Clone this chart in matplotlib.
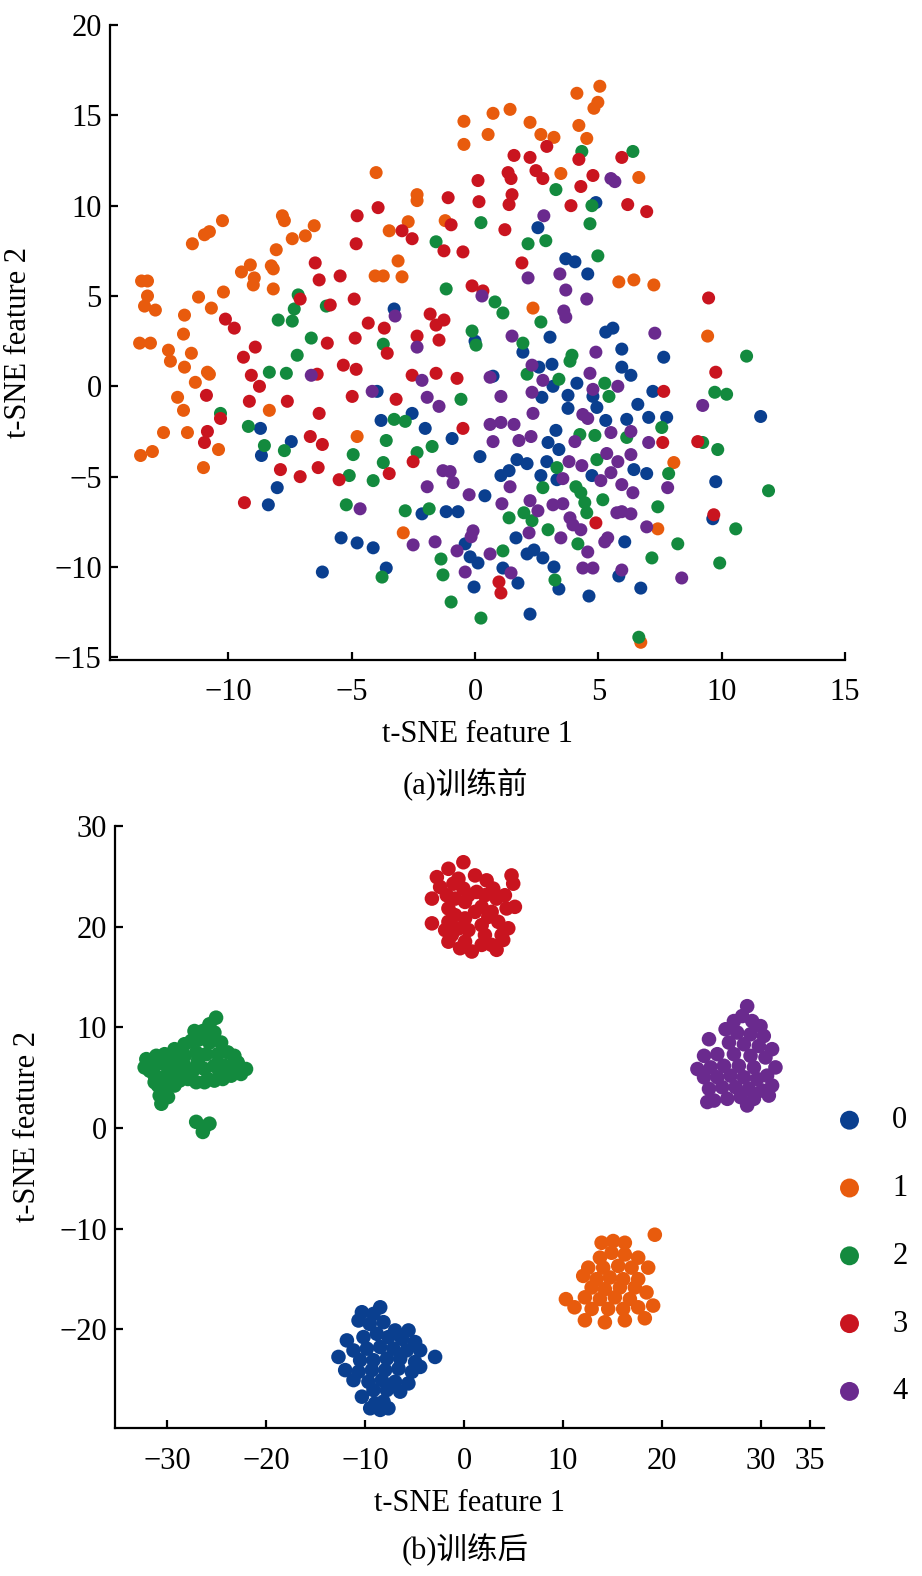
import matplotlib
matplotlib.use("Agg")
import matplotlib.pyplot as plt
import numpy as np

plt.rcParams['font.family'] = ['Liberation Serif', 'Noto Sans CJK SC', 'DejaVu Sans']
plt.rcParams['axes.unicode_minus'] = True

class_labels = ['0', '1', '2', '3', '4']
colors = ['#0a3f8f', '#e85b0d', '#138a3e', '#c9141f', '#6a2a8e']

# ---------------- (a) before training ----------------
a_blue = [(4.9, 10.17), (2.55, 8.78), (3.68, 7.06), (4.05, 6.89), (4.57, 6.22), (-3.28, 4.28), (3.04, 2.72),
          (0.0, 2.5), (1.94, 1.89), (5.3, 3.0), (5.59, 3.22), (5.95, 2.06), (7.65, 1.61), (-8.7, -2.33),
          (-7.45, -3.06), (-8.66, -3.83), (-8.02, -5.61), (-8.38, -6.56), (-5.43, -8.39), (-4.78, -8.67),
          (-6.19, -10.28), (-3.97, -0.28), (0.73, 0.56), (2.59, 1.06), (3.12, 1.22), (3.16, 0.0), (2.71, -0.61),
          (4.13, 0.17), (3.77, -0.5), (3.77, -1.22), (4.94, -1.17), (-2.55, -1.5), (-3.81, -1.89), (-2.02, -2.33),
          (-0.93, -2.89), (0.2, -3.89), (1.7, -4.06), (2.11, -4.28), (1.38, -4.67), (1.05, -4.94), (3.28, -2.44),
          (2.96, -3.11), (3.4, -3.5), (2.91, -4.17), (2.67, -4.94), (3.32, -5.17), (4.74, -4.94), (0.4, -6.06),
          (-2.15, -7.06), (-1.17, -6.94), (-0.69, -6.94), (-4.13, -8.94), (-0.4, -8.72), (-0.2, -9.44),
          (0.12, -9.78), (1.66, -8.39), (2.11, -9.28), (2.39, -9.06), (2.75, -9.5), (3.2, -10.0), (1.13, -10.06),
          (1.74, -10.89), (-0.04, -11.11), (-3.6, -10.06), (3.4, -11.22), (4.62, -11.61), (2.23, -12.61),
          (5.95, 1.06), (6.32, 0.61), (4.78, -0.56), (6.6, -1.0), (7.21, -0.28), (7.04, -1.72), (7.77, -1.72),
          (6.15, -1.83), (5.3, -1.89), (6.44, -4.61), (6.96, -4.83), (11.58, -1.67), (9.76, -5.28),
          (9.64, -7.33), (6.07, -8.61), (5.83, -10.5), (6.72, -11.17)]

a_orange = [(-11.46, 7.89), (-10.97, 8.39), (-10.77, 8.56), (-10.24, 9.17), (-7.81, 9.44), (-7.73, 9.17),
            (-7.41, 8.17), (-6.88, 8.33), (-6.52, 8.89), (-8.06, 7.56), (-9.11, 6.72), (-9.47, 6.33),
            (-8.95, 6.0), (-8.99, 5.61), (-8.26, 6.67), (-8.18, 6.5), (-8.18, 5.39), (-10.2, 5.22),
            (-11.21, 4.94), (-10.69, 4.33), (-13.52, 5.83), (-13.28, 5.83), (-13.28, 5.0), (-13.4, 4.44),
            (-12.96, 4.22), (-11.78, 3.94), (-11.82, 2.89), (-13.6, 2.39), (-13.16, 2.39), (-12.43, 2.0),
            (-11.5, 1.83), (-12.35, 1.39), (-11.78, 1.06), (-11.34, 0.22), (-10.85, 0.78), (-10.77, 0.67),
            (-12.06, -0.61), (-11.82, -1.33), (-12.63, -2.56), (-11.66, -2.56), (-13.56, -3.83),
            (-13.08, -3.61), (-10.4, -3.5), (-11.01, -4.5), (-8.34, -1.33), (-4.78, -2.78), (-0.45, 14.67),
            (0.73, 15.11), (1.42, 15.33), (2.23, 14.61), (2.67, 13.94), (3.2, 13.78), (4.21, 14.44),
            (4.53, 13.72), (0.53, 13.94), (-0.45, 13.39), (-4.01, 11.83), (-2.35, 10.61), (-2.35, 10.28),
            (-2.71, 9.11), (-3.48, 8.61), (-1.21, 9.17), (-3.12, 6.94), (-4.05, 6.11), (-3.72, 6.11),
            (-2.96, 6.06), (3.48, 11.78), (2.35, 4.33), (4.13, 16.22), (5.06, 16.61), (4.82, 15.39),
            (4.98, 15.72), (6.64, 11.56), (5.83, 5.78), (6.44, 5.89), (7.25, 5.61), (9.43, 2.78),
            (-2.91, -8.11), (8.06, -4.22), (7.41, -7.89), (6.72, -14.17)]

a_green = [(-7.17, 5.06), (-7.33, 4.28), (-7.98, 3.67), (-7.41, 3.61), (-6.03, 4.44), (-6.64, 2.67),
           (-7.21, 1.72), (4.33, 13.0), (3.28, 10.89), (4.74, 10.0), (4.66, 9.0), (0.24, 9.06), (2.87, 8.06),
           (2.15, 7.89), (-1.58, 8.0), (4.98, 7.22), (-1.17, 5.39), (0.81, 4.67), (1.13, 4.06), (2.67, 3.56),
           (-0.12, 3.06), (0.04, 2.28), (-3.72, 2.33), (1.94, 2.39), (3.93, 1.72), (3.85, 1.39), (6.4, 13.0),
           (11.01, 1.67), (-10.32, -1.5), (-9.19, -2.22), (-8.54, -3.28), (-7.73, -3.56), (-8.34, 0.78),
           (-7.65, 0.72), (-4.94, -3.78), (-5.1, -4.94), (-5.22, -6.56), (2.11, 0.67), (3.4, 0.39),
           (-0.57, -0.72), (-3.28, -1.83), (-2.83, -1.94), (-3.6, -3.0), (-3.72, -4.22), (-4.13, -5.22),
           (-2.35, -3.67), (-1.74, -3.33), (4.25, -2.67), (4.86, -2.72), (4.94, -4.06), (3.32, -4.5),
           (2.75, -5.61), (4.09, -5.56), (4.29, -5.89), (4.45, -6.44), (4.53, -7.0), (-2.83, -6.89),
           (-1.86, -6.78), (1.38, -7.28), (1.98, -7.0), (2.31, -7.44), (2.96, -7.94), (4.17, -8.72),
           (1.13, -9.11), (-1.38, -9.56), (-1.3, -10.44), (-3.77, -10.56), (-0.97, -11.94), (0.24, -12.83),
           (3.24, -10.72), (5.26, 0.17), (5.43, -0.56), (9.72, -0.33), (10.2, -0.44), (7.57, -2.28),
           (6.15, -2.83), (9.23, -3.11), (9.84, -3.5), (7.85, -4.83), (11.9, -5.78), (7.41, -6.67),
           (5.18, -6.28), (10.57, -7.89), (8.22, -8.72), (7.17, -9.5), (9.92, -9.78), (6.64, -13.89)]

a_red = [(-4.78, 9.44), (-4.82, 7.89), (-6.48, 6.83), (-6.32, 5.89), (-5.47, 6.11), (-7.09, 4.83), (-5.87, 4.5),
         (-4.9, 4.83), (-10.12, 3.72), (-9.76, 3.22), (-8.91, 2.17), (-9.39, 1.61), (-5.99, 2.39), (-4.86, 2.67),
         (1.58, 12.78), (2.23, 12.67), (2.91, 13.28), (4.21, 12.56), (4.78, 11.67), (1.34, 11.83), (1.46, 11.5),
         (2.47, 11.94), (2.75, 11.5), (0.12, 11.39), (0.16, 10.22), (1.5, 10.61), (1.38, 10.06), (-1.09, 10.44),
         (4.29, 11.06), (3.89, 10.0), (-3.93, 9.89), (-2.96, 8.61), (-2.55, 8.17), (-0.97, 8.94), (1.21, 8.67),
         (-1.26, 7.5), (-0.49, 7.44), (1.9, 6.83), (-0.12, 5.56), (0.32, 5.28), (-1.82, 4.0), (-1.58, 3.39),
         (-1.26, 3.67), (-4.33, 3.5), (-3.68, 3.22), (-2.35, 2.78), (-1.46, 2.56), (-3.56, 1.83), (5.95, 12.67),
         (6.19, 10.06), (6.96, 9.67), (9.47, 4.89), (-9.07, 0.61), (-8.74, 0.0), (-9.15, -0.83), (-7.61, -0.83),
         (-10.89, -0.5), (-10.32, -1.78), (-10.85, -2.5), (-10.97, -3.11), (-6.32, -1.5), (-6.68, -2.78),
         (-6.19, -3.22), (-6.36, -4.5), (-7.89, -4.61), (-7.09, -5.0), (-5.51, -5.17), (-9.35, -6.44),
         (-5.34, 1.17), (-4.82, 0.94), (-4.98, -0.56), (-6.4, 0.67), (-3.2, -0.72), (-2.55, 0.61),
         (-1.58, 0.72), (-0.73, 0.44), (-0.49, -2.33), (-2.51, -4.17), (-3.48, -4.83), (4.9, -7.56),
         (0.97, -10.83), (1.05, -11.44), (7.65, -0.28), (9.76, 0.78), (7.61, -3.11), (9.03, -3.06),
         (9.68, -7.11)]

a_purple = [(2.79, 9.44), (3.44, 6.22), (2.15, 6.0), (3.68, 5.33), (4.53, 4.83), (3.6, 4.17), (3.68, 3.83),
            (0.28, 5.0), (-3.24, 3.89), (1.5, 2.78), (-2.35, 2.17), (4.9, 1.89), (5.51, 11.5), (5.67, 11.33),
            (7.29, 2.94), (-6.64, 0.61), (-4.66, -6.78), (-4.17, -0.28), (-2.15, 0.33), (-1.94, -0.61),
            (-1.46, -1.11), (0.61, 0.5), (1.05, -0.56), (0.61, -2.11), (1.05, -2.0), (1.58, -2.11),
            (0.73, -3.06), (1.78, -3.0), (2.27, -2.78), (2.35, -1.5), (2.31, -0.33), (2.75, 0.33), (2.31, 1.17),
            (4.66, 0.72), (4.78, -0.17), (4.37, -1.56), (4.57, -1.78), (4.05, -3.06), (3.81, -4.17),
            (4.33, -4.39), (3.56, -5.11), (-1.3, -4.67), (-1.01, -4.72), (-0.89, -5.33), (-1.94, -5.56),
            (-0.24, -6.0), (1.42, -5.56), (1.09, -6.5), (2.23, -6.33), (2.55, -6.89), (3.16, -6.56),
            (3.56, -6.5), (3.85, -7.28), (3.97, -7.67), (4.29, -7.94), (3.48, -8.39), (2.19, -8.11),
            (-0.08, -8.0), (-0.16, -8.33), (-2.51, -8.78), (-1.62, -8.61), (-0.73, -9.11), (0.61, -9.28),
            (-0.4, -10.28), (1.46, -10.33), (4.57, -9.17), (4.37, -10.06), (4.78, -10.06), (5.26, -8.61),
            (5.79, 0.0), (5.51, -2.56), (6.32, -2.5), (7.04, -3.11), (9.23, -1.06), (5.34, -3.72),
            (5.79, -4.17), (6.32, -3.78), (5.51, -4.78), (5.1, -5.22), (5.95, -5.44), (6.4, -5.89),
            (7.81, -5.61), (5.75, -7.0), (5.95, -6.94), (6.32, -7.06), (6.96, -7.78), (5.38, -8.39),
            (5.95, -10.17), (8.38, -10.61)]

# ---------------- (b) after training ----------------
b_blue = [(-8.48, -17.81), (-10.33, -18.3), (-9.16, -18.47), (-10.67, -19.12), (-9.54, -19.46), (-8.15, -19.29),
          (-6.97, -20.11), (-5.62, -20.11), (-10.17, -20.77), (-8.82, -20.44), (-7.65, -20.77), (-6.29, -20.94),
          (-4.95, -21.27), (-11.85, -21.1), (-11.18, -22.1), (-12.7, -22.74), (-9.83, -21.92), (-8.48, -21.76),
          (-7.14, -21.92), (-5.79, -22.08), (-4.44, -22.08), (-2.93, -22.74), (-10.51, -23.07), (-9.16, -23.07),
          (-7.81, -22.91), (-6.46, -22.91), (-4.95, -23.24), (-12.02, -24.05), (-10.67, -24.22), (-9.32, -24.05),
          (-7.98, -24.05), (-6.63, -23.9), (-5.28, -24.22), (-4.44, -23.73), (-11.18, -25.04), (-9.67, -25.21),
          (-8.31, -25.04), (-6.97, -25.21), (-5.63, -25.37), (-9.16, -26.03), (-7.81, -26.03), (-6.46, -26.19),
          (-10.33, -26.69), (-8.99, -27.35), (-8.15, -27.18), (-8.48, -28.0), (-7.65, -27.84), (-9.49, -27.84)]

b_orange = [(19.29, -10.6), (13.91, -11.4), (15.08, -11.23), (16.26, -11.4), (13.74, -12.88), (14.92, -12.39),
            (16.26, -12.56), (17.61, -12.88), (12.56, -13.87), (14.07, -13.87), (15.59, -13.7), (16.94, -13.87),
            (18.62, -13.87), (12.05, -14.69), (13.4, -15.02), (14.75, -14.85), (16.09, -15.02), (17.61, -15.02),
            (12.9, -15.84), (14.24, -16.01), (15.76, -15.84), (17.27, -15.84), (18.45, -16.33), (12.22, -16.82),
            (13.74, -16.99), (15.25, -16.82), (16.77, -16.99), (11.17, -17.81), (12.9, -17.97), (14.58, -17.97),
            (16.09, -17.97), (17.61, -17.81), (19.12, -17.64), (12.22, -19.1), (14.24, -19.3), (16.26, -19.1),
            (18.28, -18.9), (10.3, -17.0)]

b_green = [(-25.08, 10.96), (-25.75, 10.3), (-26.42, 9.63), (-25.25, 9.48), (-26.76, 8.82), (-25.75, 8.49),
           (-24.57, 8.49), (-27.59, 8.65), (-28.27, 8.32), (-29.28, 7.83), (-30.28, 7.33), (-31.12, 7.17),
           (-32.13, 6.84), (-32.3, 6.02), (-31.29, 6.18), (-30.28, 6.35), (-29.28, 6.68), (-28.27, 7.17),
           (-27.09, 7.51), (-26.08, 7.33), (-24.9, 7.33), (-23.9, 7.51), (-23.23, 7.17), (-22.89, 6.51),
           (-22.05, 5.86), (-22.56, 5.37), (-23.56, 5.2), (-24.4, 4.87), (-25.25, 4.71), (-26.25, 4.55),
           (-27.09, 4.55), (-27.93, 4.87), (-28.77, 4.71), (-29.61, 4.87), (-30.44, 5.04), (-31.29, 5.2),
           (-31.79, 5.69), (-30.95, 4.22), (-30.11, 3.89), (-29.28, 4.22), (-28.6, 5.53), (-27.26, 5.86),
           (-26.25, 5.86), (-25.25, 6.18), (-24.24, 6.18), (-23.56, 6.18), (-26.92, 6.68), (-28.27, 6.18),
           (-29.61, 5.86), (-30.78, 3.22), (-29.94, 3.07), (-30.61, 2.41), (-29.44, 5.37), (-25.91, 4.87),
           (-24.74, 5.69), (-31.29, 4.55), (-25.75, 9.31), (-27.26, 9.63),
           (-27.09, 0.61), (-25.75, 0.43), (-26.42, -0.39), (-26.25, 0.1)]

b_red = [(-0.07, 26.4), (-1.58, 25.75), (-2.75, 24.92), (-0.57, 24.76), (1.11, 25.09), (2.28, 24.6), (2.95, 23.78),
         (4.8, 25.09), (4.97, 24.27), (-2.42, 23.94), (-3.25, 22.79), (-1.75, 23.12), (-0.07, 23.78), (1.27, 23.45),
         (3.29, 22.79), (4.13, 23.12), (5.14, 21.97), (4.3, 21.81), (-1.58, 21.81), (0.1, 22.46), (-0.91, 21.14),
         (1.11, 21.47), (2.79, 21.47), (-3.25, 20.33), (-1.58, 20.48), (0.1, 20.82), (1.78, 20.15), (3.46, 20.48),
         (4.47, 19.84), (-1.24, 19.17), (0.44, 19.66), (2.11, 19.17), (3.8, 19.17), (-1.58, 18.51), (0.1, 18.51),
         (1.78, 18.19), (3.29, 17.7), (-0.4, 17.86), (3.96, 18.68), (0.78, 17.53), (2.79, 18.19), (1.78, 21.97),
         (-1.91, 19.66), (-1.08, 24.27), (0.44, 23.12), (-0.91, 22.79), (2.11, 23.12), (-0.57, 19.82),
         (2.45, 20.97)]

b_purple = [(28.63, 12.1), (28.13, 11.12), (29.14, 10.62), (27.29, 10.62), (29.98, 10.12), (26.45, 9.81),
            (27.62, 9.48), (28.97, 9.31), (30.31, 9.14), (24.77, 8.82), (26.79, 8.49), (28.3, 8.32), (29.81, 8.15),
            (31.15, 7.83), (25.61, 7.33), (24.27, 7.17), (27.29, 7.33), (28.97, 7.17), (30.48, 7.01), (31.49, 6.02),
            (23.6, 5.86), (24.94, 6.02), (26.28, 6.18), (27.79, 6.18), (29.31, 6.02), (30.64, 5.2), (24.27, 5.04),
            (25.61, 5.04), (26.96, 5.2), (28.3, 5.04), (29.64, 4.87), (31.15, 4.22), (24.77, 3.89), (26.11, 4.05),
            (27.46, 4.05), (28.8, 3.89), (30.14, 3.72), (25.28, 2.73), (26.62, 2.9), (27.97, 3.07), (29.31, 2.9),
            (30.82, 3.22), (24.6, 2.58), (28.63, 2.24)]

a_x_ticks = [-10, -5, 0, 5, 10, 15]
a_y_ticks = [-15, -10, -5, 0, 5, 10, 15, 20]
b_x_ticks = [-30, -20, -10, 0, 10, 20, 30, 35]
b_y_ticks = [-20, -10, 0, 10, 20, 30]
x_label = 't-SNE feature 1'
y_label = 't-SNE feature 2'
caption_a = '(a)训练前'
caption_b = '(b)训练后'

W, H = 922, 1576
fig = plt.figure(figsize=(W / 100, H / 100), dpi=100)

FS = 22

def style(ax, ylabelpad, xpad):
    for s in ['top', 'right']:
        ax.spines[s].set_visible(False)
    for s in ['left', 'bottom']:
        ax.spines[s].set_linewidth(1.6)
    ax.tick_params(direction='in', length=6, width=1.6, labelsize=FS)
    ax.tick_params(axis='x', pad=xpad)
    ax.tick_params(axis='y', pad=6)
    ax.set_xlabel(x_label, fontsize=FS, labelpad=9)
    ax.set_ylabel(y_label, fontsize=FS, labelpad=ylabelpad)

ax1 = fig.add_axes([110 / W, 1 - 660 / H, (845 - 110) / W, (660 - 25) / H])
for pts, c in zip([a_blue, a_orange, a_green, a_red, a_purple], colors):
    p = np.array(pts)
    ax1.scatter(p[:, 0], p[:, 1], s=88, color=c, edgecolors='none', zorder=3)
ax1.set_xlim(-14.8, 15.0)
ax1.set_ylim(-15.15, 20)
ax1.set_xticks(a_x_ticks)
ax1.set_yticks(a_y_ticks)
style(ax1, 15, 13)

ax2 = fig.add_axes([115 / W, 1 - 1428 / H, (824 - 115) / W, (1428 - 826) / H])
handles = []
for pts, c, lab in zip([b_blue, b_orange, b_green, b_red, b_purple], colors, class_labels):
    p = np.array(pts)
    h = ax2.scatter(p[:, 0], p[:, 1], s=110, color=c, edgecolors='none', zorder=3, label=lab)
    handles.append(h)
ax2.set_xlim(-35.3, 36.4)
ax2.set_ylim(-29.8, 30)
ax2.set_xticks(b_x_ticks)
ax2.set_yticks(b_y_ticks)
style(ax2, 12, 14)

leg = fig.legend(handles=handles, labels=class_labels, loc='upper left',
                 bbox_to_anchor=(822 / W, 1 - 1094 / H), frameon=False, fontsize=FS,
                 handlelength=1.0, handletextpad=0.9, labelspacing=1.27, markerscale=1.3,
                 borderaxespad=0)

fig.text(465 / W, 1 - 785 / H, caption_a, ha='center', va='center', fontsize=FS,
         family=['Liberation Serif', 'Noto Sans CJK SC'])
fig.text(465 / W, 1 - 1550 / H, caption_b, ha='center', va='center', fontsize=FS,
         family=['Liberation Serif', 'Noto Sans CJK SC'])

fig.savefig('out.png', dpi=100, facecolor='white')
